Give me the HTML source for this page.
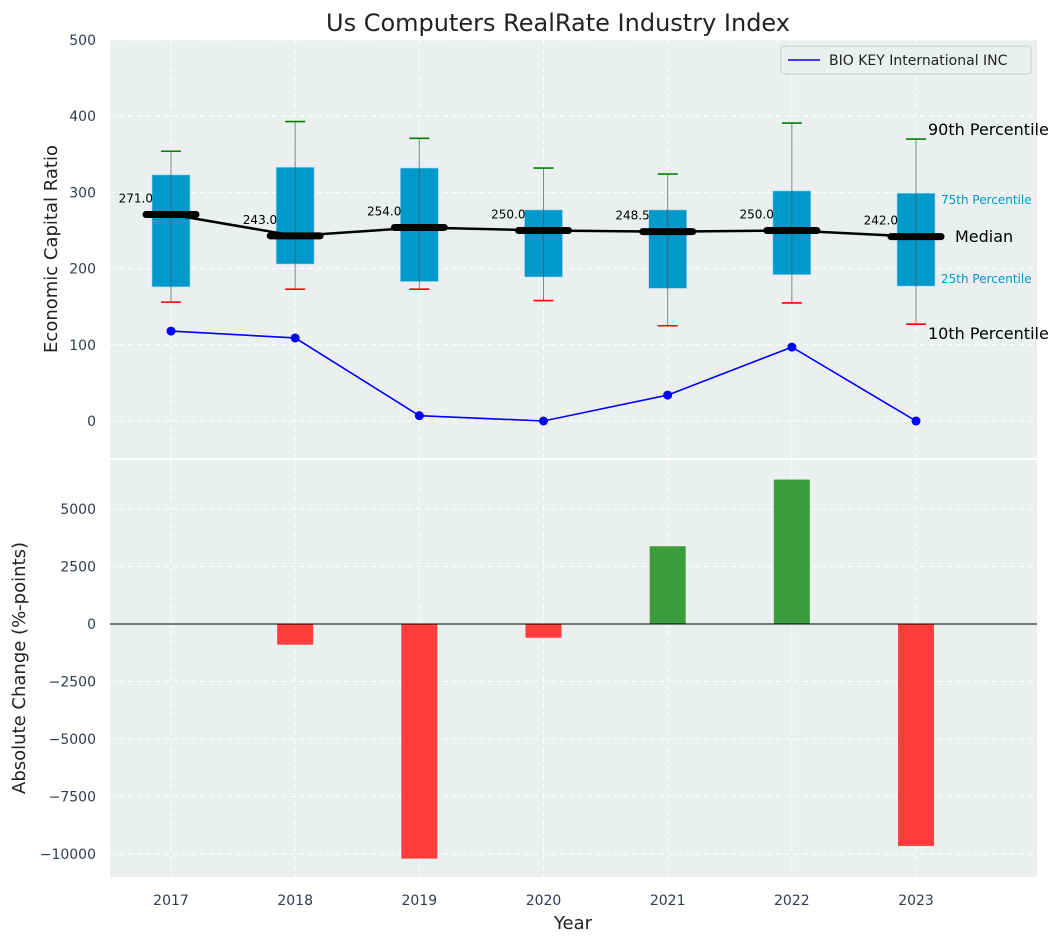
<!DOCTYPE html>
<html><head><meta charset="utf-8"><style>
body{margin:0;background:#fff;}
svg{display:block;font-family:"DejaVu Sans","Liberation Sans",sans-serif;}
</style></head><body>
<svg id="chart" width="1063" height="942" xmlns="http://www.w3.org/2000/svg"></svg>
<script>
const years = [2017,2018,2019,2020,2021,2022,2023];
const q1 = [176,206,183,189,174,192,177];
const q3 = [323,333,332,277,277,302,299];
const p10 = [156,173,173,158,125,155,127];
const p90 = [354,393,371,332,324,391,370];
const medians = [271,243,254,250,248.5,250,242];
const medianLabels = ["271.0","243.0","254.0","250.0","248.5","250.0","242.0"];
const company = [118,109,7,0,34,97,0];
const changes = [0,-900,-10200,-600,3380,6280,-9650];
const topTicks = [0,100,200,300,400,500];
const botTicks = [-10000,-7500,-5000,-2500,0,2500,5000];

const svg = document.getElementById('chart');
const NS = 'http://www.w3.org/2000/svg';
function mk(tag, attrs, parent){const e=document.createElementNS(NS,tag);for(const k in attrs)e.setAttribute(k,attrs[k]);(parent||svg).appendChild(e);return e;}
const X0=110,X1=1037;
const xs = i => 171 + i*124.17;
const yT = v => 421 - v*0.762;
const yB = v => 624 - v*0.023;

// panels
let p=mk('rect',{x:X0,y:40,width:X1-X0,height:418,fill:'#eceff0'});

p=mk('rect',{x:X0,y:460,width:X1-X0,height:417,fill:'#eceff0'});


// grids
years.forEach((y,i)=>{
  mk('line',{x1:xs(i),x2:xs(i),y1:40,y2:458,stroke:'#fff','stroke-dasharray':'5,4','stroke-width':1});
  mk('line',{x1:xs(i),x2:xs(i),y1:460,y2:877,stroke:'#fff','stroke-dasharray':'5,4','stroke-width':1});
  let t=mk('text',{x:xs(i),y:905,'text-anchor':'middle','font-size':14,fill:'#2c3e50'});t.textContent=y;
  
});
topTicks.forEach(v=>{
  mk('line',{x1:X0,x2:X1,y1:yT(v),y2:yT(v),stroke:'#fff','stroke-dasharray':'5,4'});
  let t=mk('text',{x:96,y:yT(v)+5,'text-anchor':'end','font-size':14,fill:'#2c3e50'});t.textContent=v;
  
});
botTicks.forEach(v=>{
  mk('line',{x1:X0,x2:X1,y1:yB(v),y2:yB(v),stroke:'#fff','stroke-dasharray':'5,4'});
  let t=mk('text',{x:96,y:yB(v)+5,'text-anchor':'end','font-size':14,fill:'#2c3e50'});t.textContent=v<0?'\u2212'+Math.abs(v):v;
  
});

// boxes
years.forEach((y,i)=>{
  const x=xs(i);
  let b=mk('rect',{x:x-19,y:yT(q3[i]),width:38,height:yT(q1[i])-yT(q3[i]),fill:'#0099cc',stroke:'#a8d8ea','stroke-width':0.6});
  
  mk('line',{x1:x,x2:x,y1:yT(p10[i]),y2:yT(p90[i]),stroke:'#555','stroke-opacity':0.7,'stroke-width':1});
  let c=mk('line',{x1:x-10,x2:x+10,y1:yT(p90[i]),y2:yT(p90[i]),stroke:'green','stroke-width':1.6});
  
  c=mk('line',{x1:x-10,x2:x+10,y1:yT(p10[i]),y2:yT(p10[i]),stroke:'red','stroke-width':1.6});
  
});
// median line
let ml=mk('polyline',{points:medians.map((m,i)=>xs(i)+','+yT(m)).join(' '),fill:'none',stroke:'#000','stroke-width':2.5});

medians.forEach((m,i)=>{
  let s=mk('line',{x1:xs(i)-25,x2:xs(i)+25,y1:yT(m),y2:yT(m),stroke:'#000','stroke-width':7,'stroke-linecap':'round'});
  
  let t=mk('text',{x:xs(i)-18,y:yT(m)-12,'text-anchor':'end','font-size':12,fill:'#000'});t.textContent=medianLabels[i];
  
});
// company line
let cl=mk('polyline',{points:company.map((v,i)=>xs(i)+','+yT(v)).join(' '),fill:'none',stroke:'blue','stroke-width':1.6});

company.forEach((v,i)=>{
  let d=mk('circle',{cx:xs(i),cy:yT(v),r:4.5,fill:'blue'});
  
});
// annotations
const ann=[['90th Percentile',928,135,16,'#000'],['75th Percentile',941,204,12,'#0099cc'],['Median',955,242,16,'#000'],['25th Percentile',941,283,12,'#0099cc'],['10th Percentile',928,339,16,'#000']];
ann.forEach(a=>{let t=mk('text',{x:a[1],y:a[2],'font-size':a[3],fill:a[4]});t.textContent=a[0];
  });

// legend
let lg=mk('g',{});
mk('rect',{x:781,y:46,width:250,height:28,rx:3,fill:'#eceff0',stroke:'#ccc'},lg);
mk('line',{x1:788,x2:820,y1:60,y2:60,stroke:'blue','stroke-width':1.6},lg);
let lt=mk('text',{x:829,y:65,'font-size':14,fill:'#222'},lg);lt.textContent='BIO KEY International INC';

// bars
changes.forEach((v,i)=>{
  if(v===0)return;
  const y0=yB(0),y1=yB(v);
  let r=mk('rect',{x:xs(i)-18,y:Math.min(y0,y1),width:36,height:Math.abs(y1-y0),fill:v>0?'#3c9d3c':'#ff3d3d'});
  
});
mk('line',{x1:X0,x2:X1,y1:yB(0),y2:yB(0),stroke:'#000','stroke-width':1});

// titles
let t=mk('text',{x:558,y:31,'text-anchor':'middle','font-size':24,fill:'#222'});t.textContent='Us Computers RealRate Industry Index';

t=mk('text',{x:0,y:0,'text-anchor':'middle','font-size':18,fill:'#222',transform:'translate(57,249) rotate(-90)'});t.textContent='Economic Capital Ratio';

t=mk('text',{x:0,y:0,'text-anchor':'middle','font-size':18,fill:'#222',transform:'translate(25,668) rotate(-90)'});t.textContent='Absolute Change (%-points)';

t=mk('text',{x:573,y:929,'text-anchor':'middle','font-size':18,fill:'#222'});t.textContent='Year';

</script>
</body></html>
